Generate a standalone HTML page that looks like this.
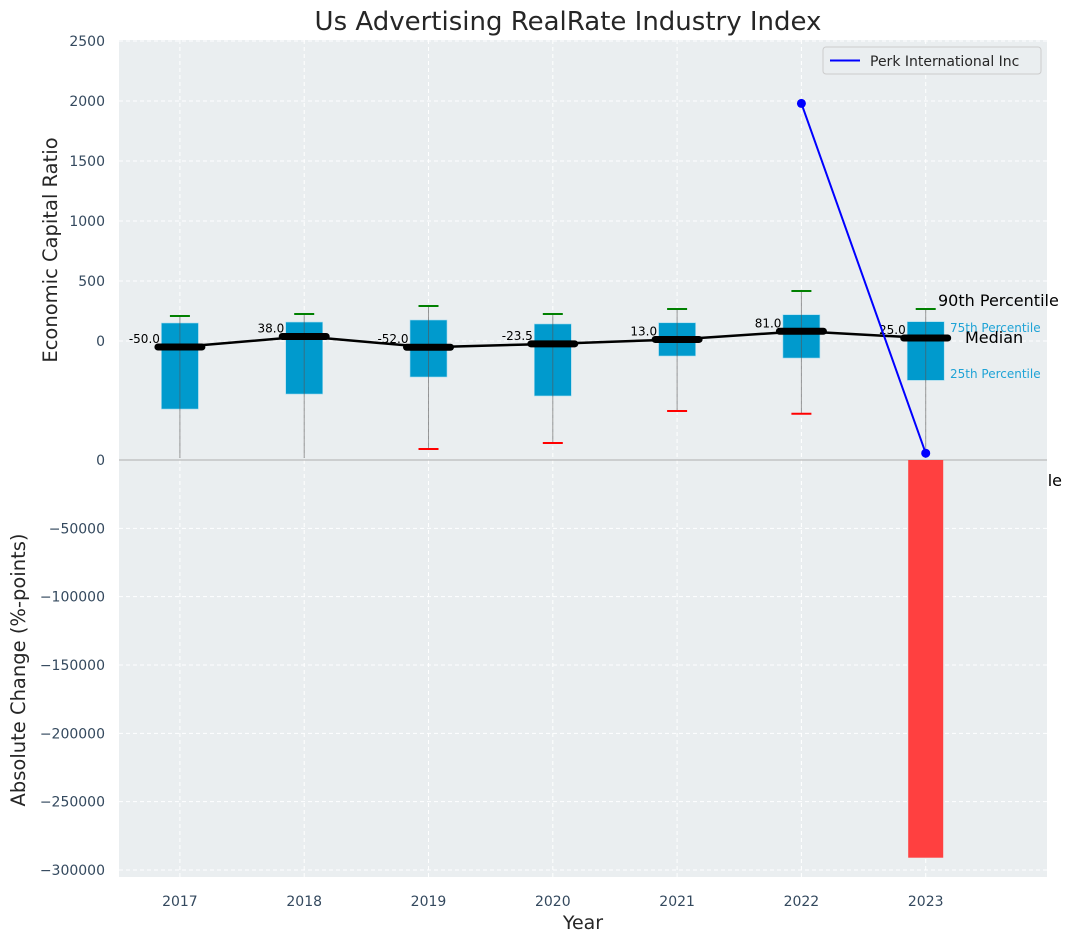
<!DOCTYPE html>
<html><head><meta charset="utf-8"><style>
body{margin:0;background:#fff}
svg{display:block;font-family:"DejaVu Sans","Liberation Sans",sans-serif}
</style></head><body>
<svg id="chart" width="1073" height="942" xmlns="http://www.w3.org/2000/svg"></svg>
<script>
const years = [2017, 2018, 2019, 2020, 2021, 2022, 2023];
const q1 = [-567, -442, -300, -458, -125, -142, -328];
const q3 = [150, 158, 175, 142, 152, 219, 161];
const medians = [-50, 38, -52, -23.5, 13, 81, 25];
const p90 = [208, 225, 292, 225, 267, 417, 267];
const p10 = [-1100, -1100, -900, -850, -583, -606, -1100];
const showLowCap = [false, false, true, true, true, true, false];
const perkYears = [2022, 2023];
const perkValues = [1980, -935];
const changeYears = [2023];
const changeValues = [-291000];
const topTicks = [0, 500, 1000, 1500, 2000, 2500];
const bottomTicks = [0, -50000, -100000, -150000, -200000, -250000, -300000];

const NS = "http://www.w3.org/2000/svg";
const svg = document.getElementById('chart');
function mk(tag, attrs, parent) {
  const e = document.createElementNS(NS, tag);
  for (const k in attrs) e.setAttribute(k, attrs[k]);
  (parent || svg).appendChild(e);
  return e;
}
const L = 119, R = 1047, T1 = 40, B1 = 460, B2 = 877;
const x = yr => L + (yr - 2016.51) * 124.3;
const yT = v => 341 - 0.12 * v;
const yB = v => 460 - v * 410 / 300000;

let bg1 = mk('rect', {x: L, y: T1, width: R - L, height: B1 - T1, fill: '#eaeef0'});



let t = mk('text', {x: 568, y: 30, 'text-anchor': 'middle', 'font-size': 26, fill: '#262626'});
t.textContent = 'Us Advertising RealRate Industry Index';



const gTop = mk('g', {});


topTicks.forEach(v => {
  mk('line', {x1: L, x2: R, y1: yT(v), y2: yT(v), stroke: '#fff', 'stroke-dasharray': '4,3', 'stroke-width': 1}, gTop);
  let tl = mk('text', {x: 105, y: yT(v) + 5, 'text-anchor': 'end', 'font-size': 14, fill: '#34495e'});
  tl.textContent = v;
  
  
});
years.forEach(yr => mk('line', {x1: x(yr), x2: x(yr), y1: T1, y2: B2, stroke: '#fff', 'stroke-dasharray': '4,3'}, gTop));

let a1 = mk('text', {x: 938, y: 306, 'font-size': 16, fill: '#000'}); a1.textContent = '90th Percentile';
 
let a5 = mk('text', {x: 1062, y: 486, 'text-anchor': 'end', 'font-size': 16, fill: '#000'}); a5.textContent = '10th Percentile';
 

const clipTop = mk('clipPath', {id: 'ct'});
mk('rect', {x: L, y: T1, width: R - L, height: B1 - T1 - 2}, clipTop);
const gBox = mk('g', {'clip-path': 'url(#ct)'});


years.forEach((yr, i) => {
  const cx = x(yr);
  const b = mk('rect', {x: cx - 18.5, y: yT(q3[i]), width: 37, height: yT(q1[i]) - yT(q3[i]), fill: '#009acd', stroke: '#a6dcef', 'stroke-width': 0.6}, gBox);
  
  
  mk('line', {x1: cx, x2: cx, y1: yT(p90[i]), y2: yT(p10[i]), stroke: '#555', 'stroke-opacity': 0.6, 'stroke-width': 1}, gBox);
  mk('line', {x1: cx - 10, x2: cx + 10, y1: yT(p90[i]), y2: yT(p90[i]), stroke: 'green', 'stroke-width': 2}, gBox);
  if (showLowCap[i]) mk('line', {x1: cx - 10, x2: cx + 10, y1: yT(p10[i]), y2: yT(p10[i]), stroke: 'red', 'stroke-width': 2}, gBox);
});
let mp = years.map((yr, i) => x(yr) + ',' + yT(medians[i])).join(' ');
let ml = mk('polyline', {points: mp, fill: 'none', stroke: '#000', 'stroke-width': 2.5});


years.forEach((yr, i) => {
  const cx = x(yr), cy = yT(medians[i]);
  let s = mk('line', {x1: cx - 22, x2: cx + 22, y1: cy, y2: cy, stroke: '#000', 'stroke-width': 7, 'stroke-linecap': 'round'});
  
  
  let lt = mk('text', {x: cx - 20, y: cy - 4, 'text-anchor': 'end', 'font-size': 12, fill: '#000'});
  lt.textContent = medians[i].toFixed(1);
  
  
});
let a2 = mk('text', {x: 950, y: 332, 'font-size': 12, fill: '#1fa3d6'}); a2.textContent = '75th Percentile';
 
let a3 = mk('text', {x: 965, y: 343, 'font-size': 16, fill: '#000'}); a3.textContent = 'Median';
 
let a4 = mk('text', {x: 950, y: 378, 'font-size': 12, fill: '#1fa3d6'}); a4.textContent = '25th Percentile';
 

let bg2 = mk('rect', {x: L, y: B1, width: R - L, height: B2 - B1, fill: '#eaeef0'});


const gBot = mk('g', {});


bottomTicks.forEach(v => {
  mk('line', {x1: L, x2: R, y1: yB(v), y2: yB(v), stroke: '#fff', 'stroke-dasharray': '4,3'}, gBot);
  let tl = mk('text', {x: 105, y: yB(v) + 5, 'text-anchor': 'end', 'font-size': 14, fill: '#34495e'});
  tl.textContent = v === 0 ? '0' : '\u2212' + Math.abs(v);
  
  
});
years.forEach(yr => mk('line', {x1: x(yr), x2: x(yr), y1: B1, y2: B2, stroke: '#fff', 'stroke-dasharray': '4,3'}, gBot));
mk('line', {x1: L, x2: R, y1: B1, y2: B1, stroke: '#bbb', 'stroke-width': 1.2});

changeYears.forEach((yr, i) => {
  const r = mk('rect', {x: x(yr) - 17.5, y: yB(0), width: 35, height: yB(changeValues[i]) - yB(0), fill: '#ff4040'});
  
  
});

let pp = perkYears.map((yr, i) => x(yr) + ',' + yT(perkValues[i])).join(' ');
let pl = mk('polyline', {points: pp, fill: 'none', stroke: '#0000ff', 'stroke-width': 2});


perkYears.forEach((yr, i) => {
  let c = mk('circle', {cx: x(yr), cy: yT(perkValues[i]), r: 4.5, fill: '#0000ff'});
  
  
});

years.forEach(yr => {
  let tl = mk('text', {x: x(yr), y: 906, 'text-anchor': 'middle', 'font-size': 14, fill: '#34495e'});
  tl.textContent = yr;
  
  
});
let xl = mk('text', {x: 583, y: 929, 'text-anchor': 'middle', 'font-size': 19, fill: '#262626'});
xl.textContent = 'Year';
 
let yl1 = mk('text', {x: 0, y: 0, 'text-anchor': 'middle', 'font-size': 19.5, fill: '#262626', transform: 'translate(57,250) rotate(-90)'});
yl1.textContent = 'Economic Capital Ratio';
 
let yl2 = mk('text', {x: 0, y: 0, 'text-anchor': 'middle', 'font-size': 19.5, fill: '#262626', transform: 'translate(25,670) rotate(-90)'});
yl2.textContent = 'Absolute Change (%-points)';
 

const lg = mk('g', {});


mk('rect', {x: 823, y: 47, width: 218, height: 27, rx: 3, fill: '#eaeef0', stroke: '#ccc'}, lg);
mk('line', {x1: 830, x2: 860, y1: 60.5, y2: 60.5, stroke: '#0000ff', 'stroke-width': 2}, lg);
let lt = mk('text', {x: 870, y: 66, 'font-size': 14, fill: '#262626'}, lg);
lt.textContent = 'Perk International Inc';


</script>
</body></html>
